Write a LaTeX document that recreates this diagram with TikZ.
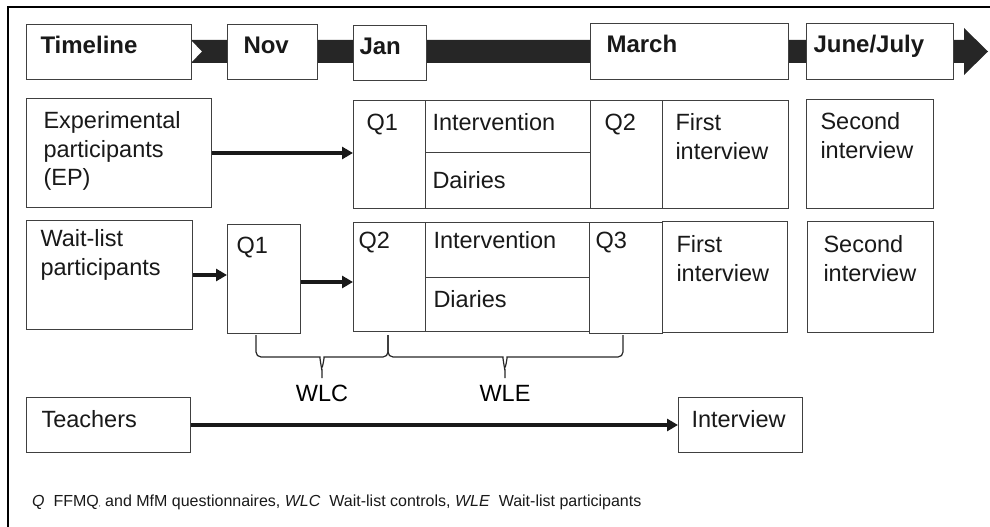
\documentclass[tikz,border=0pt]{standalone}
\usepackage{fontspec}
\setmainfont{Liberation Sans}
\usetikzlibrary{arrows.meta,
                positioning}

\newcommand{\cellfont}{\fontsize{23.5}{28.5}\selectfont}
\newcommand{\monthfont}{\fontsize{24}{28}\selectfont\bfseries}
\newcommand{\notefont}{\fontsize{16}{19}\selectfont}

\tikzset{cell/.style =
   {rectangle,
    draw=black!75,
    line width=1pt,
    fill=white,
    anchor=north west,
    inner ysep=0pt,
    align=left,
    text height=30pt,
    text=black!90,
    font=\cellfont}}
\tikzset{month/.style =
   {cell,
    text height=29pt,
    font=\monthfont}}
\tikzset{flow/.style = {draw, black!90, line width=3.5pt,
                        -{Triangle[length=11pt,width=12pt]}}}
\tikzset{bracket/.style =
   {draw,
    black!85,
    line width=1.2pt,
    rounded corners=5pt}}

\begin{document}
\begin{tikzpicture}[x=1pt, y=-1pt]

    \useasboundingbox (0,0) rectangle (990,527);

    % frame
    \draw [line width=2.6pt] (8,527) -- (8,7) -- (990,7);

    % timeline band
    \fill [black!85] (191,40) -- (964,40) -- (964,28) -- (988,51.5)
        -- (964,75) -- (964,63) -- (191,63) -- (202,51.5) -- cycle;

    \node [month, inner xsep=14pt, text width=137pt, text depth=26pt]
        (timeline) at (26,24) {Timeline};
    \node [month, inner xsep=16pt, text width=58pt, text depth=26pt]
        (nov) at (227,24) {Nov};
    \node [month, inner xsep=6pt, text width=61pt, text depth=26pt]
        (jan) at (353,25) {Jan};
    \node [month, inner xsep=16pt, text width=166pt, text depth=27pt]
        (march) at (590,23) {March};
    \node [month, inner xsep=7pt, text width=133pt, text depth=27pt]
        (june) at (806,23) {June/July};

    % experimental participants
    \node [cell, inner xsep=17pt, text width=151pt, text depth=79pt]
        (ep) at (26,98) {Experimental\\participants\\(EP)};
    \node [cell, inner xsep=13pt, text width=46pt, text depth=78pt]
        (epq1) at (353,100) {Q1};
    \node [cell, inner xsep=7pt, text width=151pt, text depth=22pt]
        (epint) at (425,100) {Intervention};
    \node [cell, inner xsep=7pt, text width=151pt,
           text height=36pt, text depth=20pt]
        (epdia) at (425,152) {Dairies};
    \node [cell, inner xsep=14pt, text width=44pt, text depth=78pt]
        (epq2) at (590,100) {Q2};
    \node [cell, inner xsep=13pt, text width=100pt, text depth=78pt]
        (epfirst) at (662,100) {First\\interview};
    \node [cell, inner xsep=14pt, text width=99pt, text depth=79pt]
        (epsecond) at (806,99) {Second\\interview};

    \draw [flow] (ep.east) -- (ep.east -| epq1.west);

    % wait-list participants
    \node [cell, inner xsep=14pt, text width=138pt,
           text height=26pt, text depth=83pt]
        (wl) at (26,220) {Wait-list\\participants};
    \node [cell, inner xsep=9pt, text width=55pt,
           text height=29pt, text depth=80pt]
        (wlq1) at (227,224) {Q1};
    \node [cell, inner xsep=5pt, text width=62pt,
           text height=26pt, text depth=83pt]
        (wlq2) at (353,222) {Q2};
    \node [cell, inner xsep=8pt, text width=148pt,
           text height=26pt, text depth=29pt]
        (wlint) at (425,222) {Intervention};
    \node [cell, inner xsep=8pt, text width=148pt, text depth=24pt]
        (wldia) at (425,277) {Diaries};
    \node [cell, inner xsep=6pt, text width=61pt,
           text height=26pt, text depth=85pt]
        (wlq3) at (589,222) {Q3};
    \node [cell, inner xsep=14pt, text width=97pt,
           text height=31pt, text depth=80pt]
        (wlfirst) at (662,221) {First\\interview};
    \node [cell, inner xsep=16pt, text width=94pt,
           text height=31pt, text depth=80pt]
        (wlsecond) at (807,221) {Second\\interview};

    \draw [flow] (wl.east) -- (wl.east -| wlq1.west);
    \draw [flow] ([yshift=-3pt]wlq1.east) -- ([yshift=-3pt]wlq1.east -| wlq2.west);

    % wait-list groups
    \coordinate (wlc-start) at (256,335);
    \coordinate (wlc-end)   at (388,335);
    \coordinate (wle-end)   at (623,335);
    \coordinate (wlc-tip)   at (322,378);
    \coordinate (wle-tip)   at (505,378);

    \draw [bracket] (wlc-start) |- ([xshift=-7pt]wlc-tip |- 0,357)
        to [out=0, in=270] ([yshift=12pt]wlc-tip) -- (wlc-tip);
    \draw [bracket] (wlc-end) |- ([xshift=7pt]wlc-tip |- 0,357)
        to [out=180, in=270] ([yshift=12pt]wlc-tip);
    \draw [bracket] (wlc-end) |- ([xshift=-7pt]wle-tip |- 0,357)
        to [out=0, in=270] ([yshift=12pt]wle-tip) -- (wle-tip);
    \draw [bracket] (wle-end) |- ([xshift=7pt]wle-tip |- 0,357)
        to [out=180, in=270] ([yshift=12pt]wle-tip);

    \node [below=7pt of wlc-tip, inner sep=0pt, font=\cellfont] (wlc) {WLC};
    \node [below=7pt of wle-tip, inner sep=0pt, font=\cellfont] (wle) {WLE};

    % teachers
    \node [cell, inner xsep=15pt, text width=134pt, text depth=25pt]
        (teachers) at (26,397) {Teachers};
    \node [cell, inner xsep=13pt, text width=98pt, text depth=25pt]
        (interview) at (678,397) {Interview};

    \draw [flow] (teachers.east) -- (interview.west);

    \node [anchor=base west, inner sep=0pt, font=\notefont, text=black!90]
        (note) at (32,506.5)
        {\textit{Q}\ \ FFMQ{\scriptsize,} and MfM questionnaires, \textit{WLC}\ \ Wait-list controls, \textit{WLE}\ \ Wait-list participants};

\end{tikzpicture}
\end{document}
